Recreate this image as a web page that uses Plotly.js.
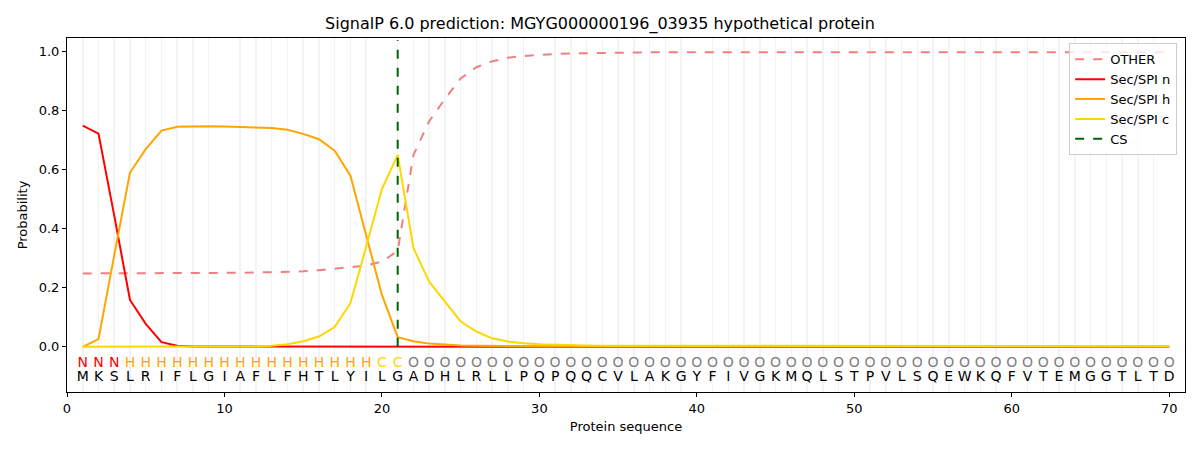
<!DOCTYPE html>
<html>
<head>
<meta charset="utf-8">
<script src="https://cdn.plot.ly/plotly-3.0.1.min.js"></script>
<style>body{margin:0;background:#fff;} #chart{width:1200px;height:450px;}</style>
</head>
<body>
<div id="chart"></div>
<script>
const sequence = "MKSLRIFLGIAFLFHTLYILGADHLRLLPQPQQCVLAKGYFIVGKMQLSTPVLSQEWKQFVTEMGGTLTD".split("");
const labels = "NNNHHHHHHHHHHHHHHHHCC".split("").concat(Array(49).fill("O"));
const positions = sequence.map((_, i) => i + 1);
const csPos = 21;

const otherP = [0.249,0.249,0.249,0.249,0.249,0.249,0.249,0.249,0.250,0.250,
                0.251,0.252,0.253,0.254,0.256,0.260,0.264,0.270,0.276,0.289,
                0.325,0.650,0.765,0.840,0.910,0.948,0.968,0.980,0.986,0.990,
                0.993,0.995,0.996,0.997,0.998,0.998,0.998,0.999,0.999,0.999,
                0.999,0.999,0.999,0.999,0.999,0.999,0.999,0.999,0.999,0.999,
                0.999,0.999,0.999,0.999,0.999,0.999,0.999,0.999,0.999,0.999,
                0.999,0.999,0.999,0.999,0.999,0.999,0.999,0.999,0.999,0.999];
const nP = [0.750,0.723,0.445,0.159,0.078,0.016,0.004,0.001,0.001,0.001,
            0.001,0.000,0.000,0.000,0.000,0.000,0.000,0.000,0.000,0.000,
            0.000,0.000,0.000,0.000,0.000,0.000,0.000,0.000,0.000,0.000,
            0.000,0.000,0.000,0.000,0.000,0.000,0.000,0.000,0.000,0.000,
            0.000,0.000,0.000,0.000,0.000,0.000,0.000,0.000,0.000,0.000,
            0.000,0.000,0.000,0.000,0.000,0.000,0.000,0.000,0.000,0.000,
            0.000,0.000,0.000,0.000,0.000,0.000,0.000,0.000,0.000,0.000];
const hP = [0.000,0.026,0.310,0.591,0.670,0.733,0.746,0.748,0.748,0.747,
            0.746,0.744,0.742,0.736,0.722,0.704,0.665,0.580,0.380,0.176,
            0.033,0.019,0.011,0.007,0.005,0.004,0.003,0.003,0.002,0.002,
            0.002,0.002,0.002,0.001,0.001,0.001,0.001,0.001,0.001,0.001,
            0.001,0.001,0.001,0.001,0.001,0.001,0.001,0.001,0.001,0.001,
            0.001,0.001,0.001,0.001,0.001,0.001,0.001,0.001,0.001,0.001,
            0.001,0.001,0.001,0.001,0.001,0.001,0.001,0.001,0.001,0.001];
const cP = [0.000,0.000,0.000,0.000,0.000,0.000,0.000,0.000,0.000,0.000,
            0.001,0.002,0.004,0.009,0.019,0.035,0.067,0.148,0.340,0.535,
            0.651,0.335,0.221,0.154,0.086,0.052,0.029,0.018,0.012,0.009,
            0.007,0.006,0.005,0.004,0.004,0.003,0.003,0.003,0.003,0.002,
            0.002,0.002,0.002,0.002,0.002,0.002,0.002,0.002,0.002,0.002,
            0.002,0.002,0.002,0.002,0.002,0.002,0.002,0.002,0.002,0.002,
            0.002,0.002,0.002,0.002,0.002,0.002,0.002,0.002,0.002,0.002];

const labelColors = {N: "#ff0000", H: "#ffa500", C: "#ffd700", O: "#808080"};
const font = "DejaVu Sans, sans-serif";

const traces = [
  {x: positions, y: otherP, mode: "lines", name: "OTHER",
   line: {color: "#f08080", width: 2, dash: "dash"}},
  {x: positions, y: nP, mode: "lines", name: "Sec/SPI n",
   line: {color: "#ff0000", width: 2}},
  {x: positions, y: hP, mode: "lines", name: "Sec/SPI h",
   line: {color: "#ffa500", width: 2}},
  {x: positions, y: cP, mode: "lines", name: "Sec/SPI c",
   line: {color: "#ffd700", width: 2}},
  {x: [csPos, csPos], y: [0, 1.04], mode: "lines", name: "CS",
   line: {color: "#006400", width: 2, dash: "dash"}},
  {x: positions, y: positions.map(() => -0.056), mode: "text", text: labels,
   textfont: {family: font, size: 14, color: labels.map(l => labelColors[l])},
   showlegend: false, hoverinfo: "skip"},
  {x: positions, y: positions.map(() => -0.104), mode: "text", text: sequence,
   textfont: {family: font, size: 14, color: "#000"},
   showlegend: false, hoverinfo: "skip"}
];

const layout = {
  width: 1200, height: 450,
  margin: {l: 67, r: 15, t: 38, b: 58},
  paper_bgcolor: "#fff", plot_bgcolor: "#fff",
  font: {family: font, size: 13, color: "#000"},
  title: {text: "SignalP 6.0 prediction: MGYG000000196_03935 hypothetical protein",
          font: {family: font, size: 16, color: "#000"}, x: 0.5, xanchor: "center", y: 0.948, yanchor: "middle"},
  xaxis: {range: [0, 71], tickmode: "linear", tick0: 0, dtick: 10,
          showgrid: false, zeroline: false,
          minor: {tickmode: "linear", tick0: 0, dtick: 1, showgrid: true, gridcolor: "#f3f3f3", gridwidth: 1.5, ticks: ""},
          showline: true, mirror: true, linecolor: "#000", linewidth: 1,
          ticks: "outside", ticklen: 4, tickcolor: "#000",
          title: {text: "Protein sequence", font: {family: font, size: 13}, standoff: 7}},
  yaxis: {range: [-0.153, 1.047], tickmode: "array",
          tickvals: [0, 0.2, 0.4, 0.6, 0.8, 1.0],
          ticktext: ["0.0", "0.2", "0.4", "0.6", "0.8", "1.0"],
          showgrid: false, zeroline: false,
          showline: true, mirror: true, linecolor: "#000", linewidth: 1,
          ticks: "outside", ticklen: 4, tickcolor: "#000",
          title: {text: "Probability", font: {family: font, size: 13}, standoff: 8}},
  legend: {x: 0.993, y: 0.985, xanchor: "right", yanchor: "top",
           bgcolor: "rgba(255,255,255,0.8)", bordercolor: "#cccccc", borderwidth: 1,
           font: {family: font, size: 13}, tracegroupgap: 0},
  showlegend: true
};

Plotly.newPlot("chart", traces, layout, {displayModeBar: false, staticPlot: true});
</script>
</body>
</html>
